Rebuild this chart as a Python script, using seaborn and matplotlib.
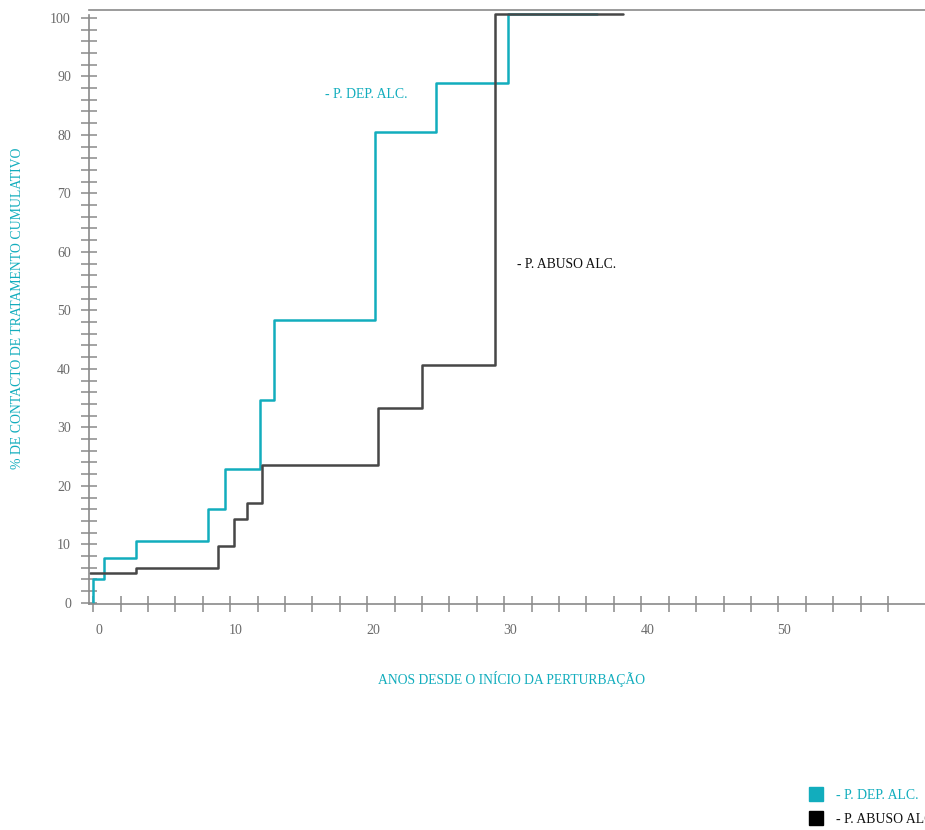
import numpy as np
import pandas as pd
import matplotlib
matplotlib.use("Agg")
import matplotlib.pyplot as plt
import matplotlib.transforms as mtransforms
from matplotlib.lines import Line2D
import seaborn as sns

sns.set_style("white")
plt.rcParams["font.family"] = ["Liberation Serif", "DejaVu Serif"]

CYAN = "#12adbd"
DARK = "#474747"
GREY = "#8a8a8a"

# step curves: years since onset vs cumulative % of treatment contact
dep_years = [0, 0, 0.83, 3.1, 8.35, 9.6, 12.2, 13.2, 20.6, 25.0, 30.3, 36.75]
dep_pct = [0, 4.1, 7.6, 10.6, 16.0, 22.9, 34.6, 48.4, 80.5, 88.9, 100.7, 100.7]

abuse_years = [-0.25, 3.1, 9.1, 10.3, 11.2, 12.3, 20.8, 24.0, 29.3, 38.7]
abuse_pct = [5.1, 5.9, 9.7, 14.3, 17.0, 23.5, 33.3, 40.7, 100.7, 100.7]

x_major = [0, 10, 20, 30, 40, 50]
y_major = [0, 10, 20, 30, 40, 50, 60, 70, 80, 90, 100]

df = pd.concat([
    pd.DataFrame({"anos": dep_years, "pct": dep_pct, "grupo": "dep"}),
    pd.DataFrame({"anos": abuse_years, "pct": abuse_pct, "grupo": "abuso"}),
], ignore_index=True)

fig = plt.figure(figsize=(9.25, 8.3), dpi=100)
ax = fig.add_axes([0.0962, 0.2723, 0.9038, 0.716])

sns.lineplot(data=df, x="anos", y="pct", hue="grupo",
             palette={"dep": CYAN, "abuso": DARK}, hue_order=["dep", "abuso"],
             estimator=None, sort=False, drawstyle="steps-post",
             linewidth=1.8, legend=False, ax=ax)

ax.set_xlim(-0.3, 60.7)
ax.set_ylim(-0.2, 101.4)

ax.spines["right"].set_visible(False)
for side in ["left", "bottom", "top"]:
    ax.spines[side].set_color(GREY)
    ax.spines[side].set_linewidth(1.2)
ax.spines["left"].set_bounds(-0.2, 100.5)

ax.set_xticks(x_major)
ax.set_xticks(np.arange(0, 60, 2), minor=True)
ax.set_yticks(y_major)
ax.set_yticks(np.arange(0, 101, 2), minor=True)
ax.set_xticklabels([str(v) for v in x_major])
ax.set_yticklabels([str(v) for v in y_major])

ax.tick_params(axis="y", which="both", direction="inout", length=12,
               width=1.1, color=GREY, left=True, labelsize=10,
               labelcolor="#6a6a6a", pad=7)
ax.tick_params(axis="x", which="both", direction="inout", length=11,
               width=1.1, color=GREY, bottom=True, labelsize=10,
               labelcolor="#6a6a6a", pad=9)
offset = mtransforms.ScaledTranslation(6 / 100, 0, fig.dpi_scale_trans)
for lab in ax.get_xticklabels():
    lab.set_transform(lab.get_transform() + offset)

ax.set_xlabel("")
ax.set_ylabel("")
fig.text(511 / 925, 1 - 679 / 830, "ANOS DESDE O INÍCIO DA PERTURBAÇÃO",
         color=CYAN, fontsize=9.8, ha="center", va="center")
fig.text(18 / 925, 1 - 308 / 830, "% DE CONTACTO DE TRATAMENTO CUMULATIVO",
         color=CYAN, fontsize=9.9, ha="center", va="center", rotation=90)

ax.text(325 / 925, 1 - 95 / 830, "- P. DEP. ALC.", color=CYAN, fontsize=9.9,
        ha="left", va="center", transform=fig.transFigure)
ax.text(517 / 925, 1 - 264 / 830, "- P. ABUSO ALC.", color="#111111",
        fontsize=9.8, ha="left", va="center", transform=fig.transFigure)

handles = [
    Line2D([], [], marker="s", linestyle="none", markersize=9.5,
           markerfacecolor=CYAN, markeredgecolor=CYAN),
    Line2D([], [], marker="s", linestyle="none", markersize=9.5,
           markerfacecolor="black", markeredgecolor="black"),
]
leg = fig.legend(handles, ["- P. DEP. ALC.", "- P. ABUSO ALC."],
                 loc="upper left", bbox_to_anchor=(811 / 925, 1 - 789 / 830),
                 frameon=False, fontsize=9.9, handlelength=0.75,
                 handletextpad=1.05, labelspacing=0.78, borderaxespad=0,
                 borderpad=0)
leg.get_texts()[0].set_color(CYAN)
leg.get_texts()[1].set_color("#111111")

fig.savefig("out.png", dpi=100)
